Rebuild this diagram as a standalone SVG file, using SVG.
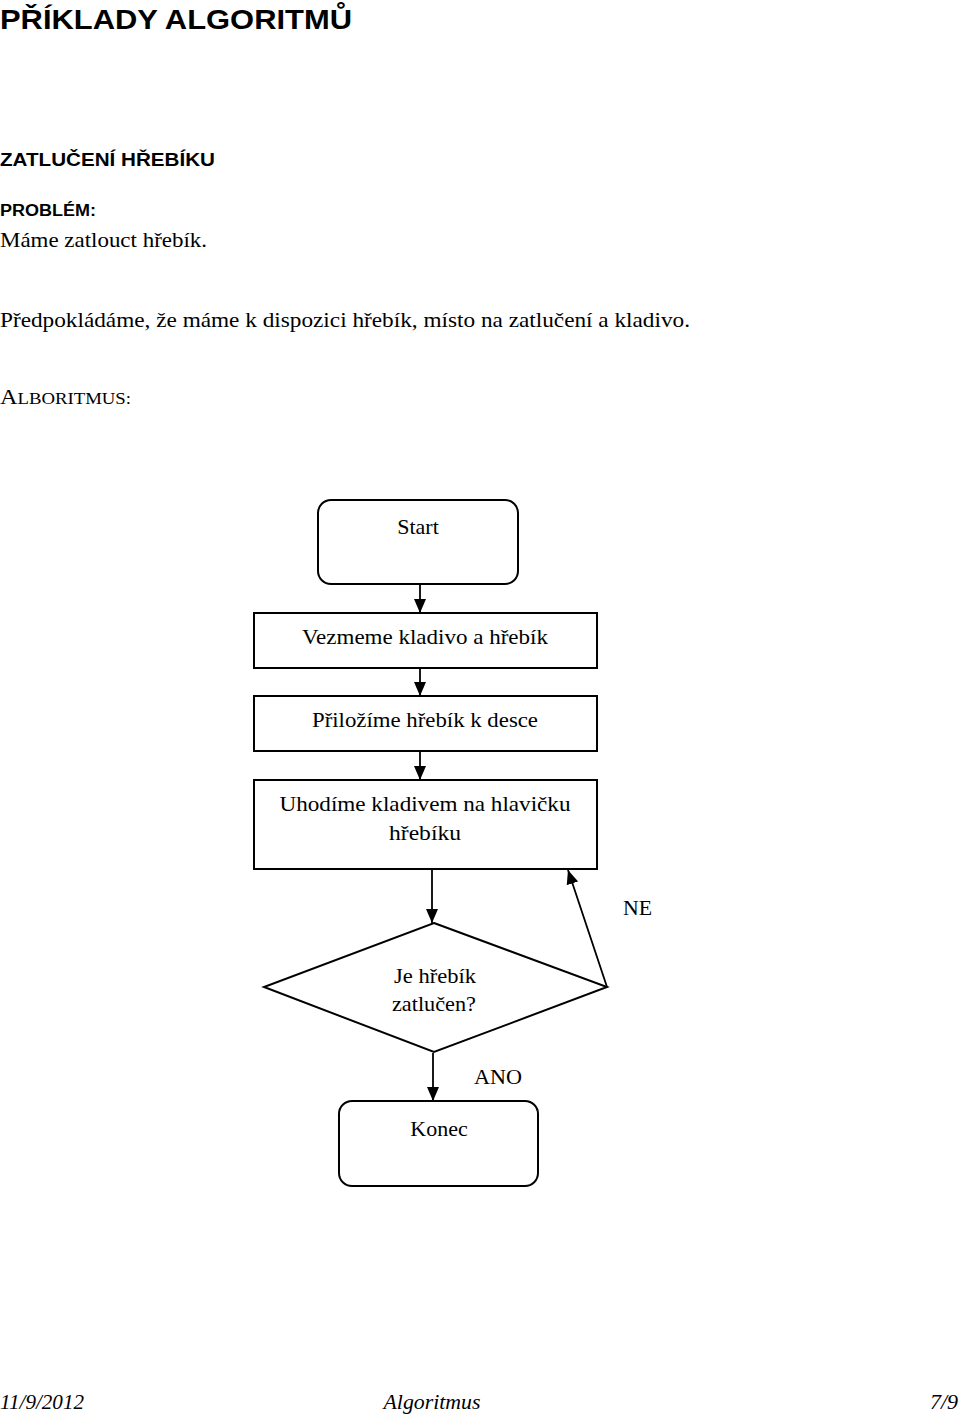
<svg xmlns="http://www.w3.org/2000/svg" width="960" height="1416" viewBox="0 0 960 1416">
<style>
.h{font-family:"Liberation Sans",Arial,sans-serif;font-weight:bold;fill:#000}
.t{font-family:"Liberation Serif","Times New Roman",serif;font-size:22px;fill:#000}
.c{text-anchor:middle}
.box{fill:#fff;stroke:#000;stroke-width:2}
.ln{fill:none;stroke:#000;stroke-width:1.8}
.it{font-style:italic}
</style>
<defs>
<marker id="ah" markerWidth="14" markerHeight="14" viewBox="0 0 14 14" refX="14" refY="7" orient="auto" markerUnits="userSpaceOnUse">
<path d="M0,1 L14,7 L0,13 Z" fill="#000"/>
</marker>
</defs>
<rect width="960" height="1416" fill="#fff"/>
<text class="h" x="0" y="29" font-size="28" textLength="352" lengthAdjust="spacingAndGlyphs">PŘÍKLADY ALGORITMŮ</text>
<text class="h" x="0" y="166" font-size="19" textLength="215" lengthAdjust="spacingAndGlyphs">ZATLUČENÍ HŘEBÍKU</text>
<text class="h" x="0" y="216" font-size="16" textLength="96" lengthAdjust="spacingAndGlyphs">PROBLÉM:</text>
<text class="t" x="0" y="247" textLength="207" lengthAdjust="spacingAndGlyphs">Máme zatlouct hřebík.</text>
<text class="t" x="0" y="327" textLength="690" lengthAdjust="spacingAndGlyphs">Předpokládáme, že máme k dispozici hřebík, místo na zatlučení a kladivo.</text>
<text class="t" x="0" y="404" textLength="131" lengthAdjust="spacingAndGlyphs">A<tspan font-size="17">LBORITMUS:</tspan></text>

<g id="connectors">
<line class="ln" x1="420" y1="585" x2="420" y2="613" marker-end="url(#ah)"/>
<line class="ln" x1="420" y1="669" x2="420" y2="696" marker-end="url(#ah)"/>
<line class="ln" x1="420" y1="752" x2="420" y2="780" marker-end="url(#ah)"/>
<line class="ln" x1="432" y1="870" x2="432" y2="923" marker-end="url(#ah)"/>
<line class="ln" x1="607" y1="987" x2="568" y2="870" marker-end="url(#ah)"/>
<line class="ln" x1="433" y1="1053" x2="433" y2="1101" marker-end="url(#ah)"/>
<text class="t" x="623" y="915" textLength="29" lengthAdjust="spacingAndGlyphs">NE</text>
<text class="t" x="474" y="1084" textLength="48" lengthAdjust="spacingAndGlyphs">ANO</text>
</g>

<g id="start">
<rect class="box" x="318" y="500" width="200" height="84" rx="13"/>
<text class="t c" x="418" y="534">Start</text>
</g>
<g id="take">
<rect class="box" x="254" y="613" width="343" height="55"/>
<text class="t c" x="425" y="644" textLength="246" lengthAdjust="spacingAndGlyphs">Vezmeme kladivo a hřebík</text>
</g>
<g id="place">
<rect class="box" x="254" y="696" width="343" height="55"/>
<text class="t c" x="425" y="727" textLength="226" lengthAdjust="spacingAndGlyphs">Přiložíme hřebík k desce</text>
</g>
<g id="hit">
<rect class="box" x="254" y="780" width="343" height="89"/>
<text class="t c" x="425" y="811" textLength="291" lengthAdjust="spacingAndGlyphs">Uhodíme kladivem na hlavičku</text>
<text class="t c" x="425" y="840" textLength="72" lengthAdjust="spacingAndGlyphs">hřebíku</text>
</g>
<g id="decision">
<polygon class="box" points="434,923 607,987 434,1052 264,987"/>
<text class="t c" x="435" y="983" textLength="82" lengthAdjust="spacingAndGlyphs">Je hřebík</text>
<text class="t c" x="434" y="1011" textLength="84" lengthAdjust="spacingAndGlyphs">zatlučen?</text>
</g>
<g id="end">
<rect class="box" x="339" y="1101" width="199" height="85" rx="13"/>
<text class="t c" x="439" y="1136">Konec</text>
</g>

<text class="t it" x="0" y="1409" textLength="84" lengthAdjust="spacingAndGlyphs">11/9/2012</text>
<text class="t it c" x="432" y="1409" textLength="97" lengthAdjust="spacingAndGlyphs">Algoritmus</text>
<text class="t it" x="958" y="1409" text-anchor="end">7/9</text>
</svg>
